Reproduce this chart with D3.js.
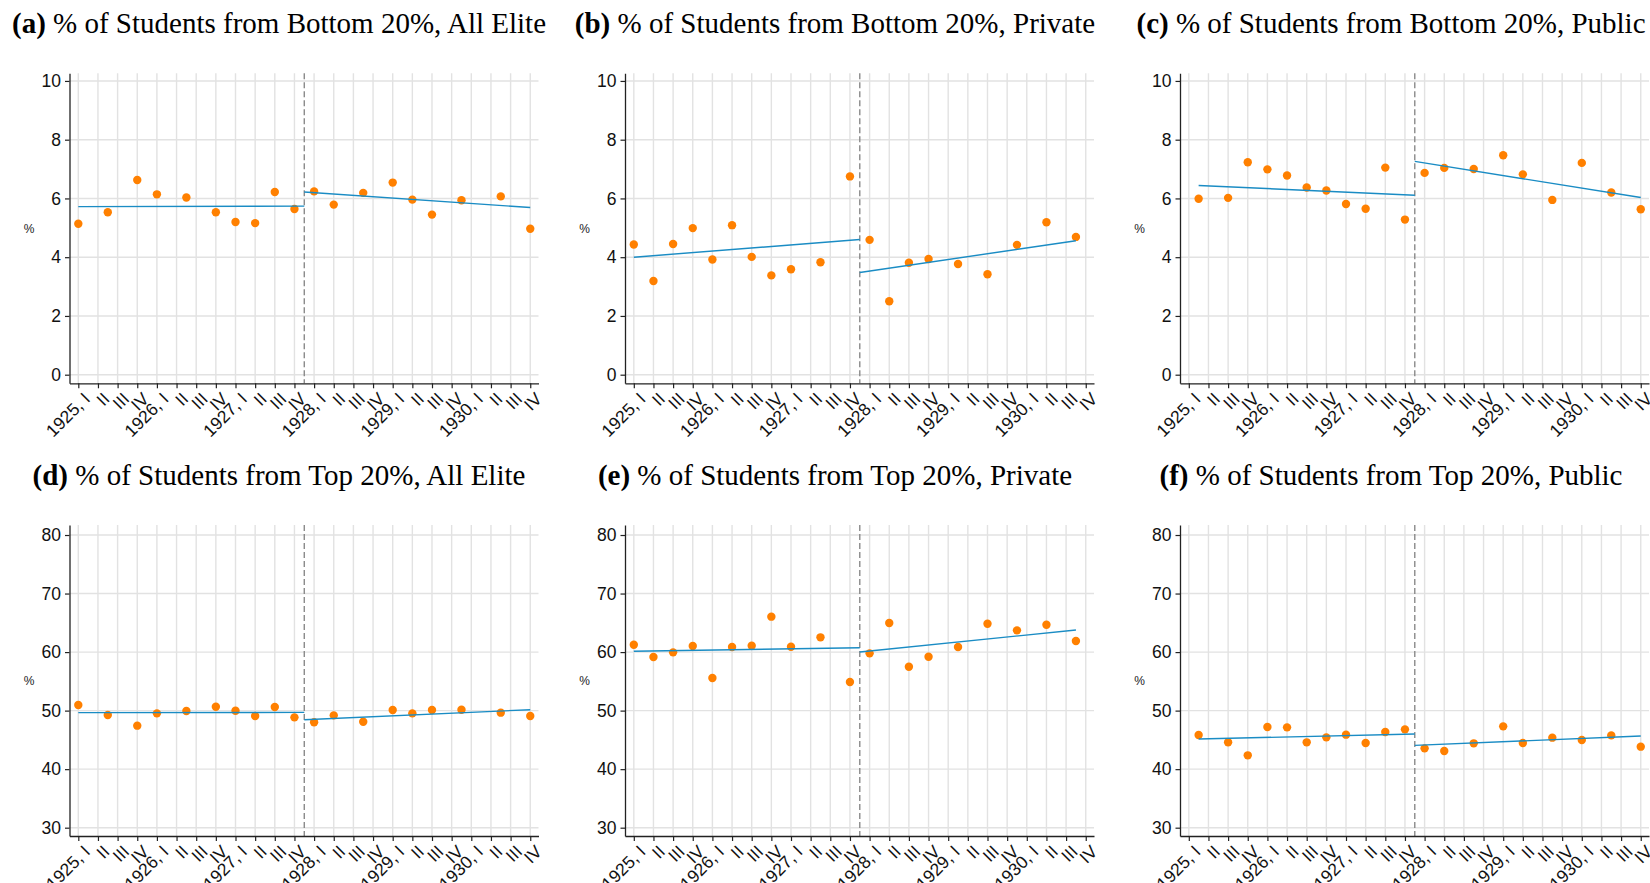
<!DOCTYPE html>
<html>
<head>
<meta charset="utf-8">
<script src="https://cdn.jsdelivr.net/npm/d3@7"></script>
<style>
body { margin: 0; background: #fff; }
</style>
</head>
<body>
<div id="chart"></div>
<script>
// x axis: quarters from 1925 I to 1930 IV, reform between 1927 IV and 1928 I
let years = [1925, 1926, 1927, 1928, 1929, 1930];
let quarters = ["I", "II", "III", "IV"];
let cutoff = 11.5;

let ticksBottom20 = [0, 2, 4, 6, 8, 10];
let ticksTop20 = [30, 40, 50, 60, 70, 80];

// x positions of the points (quarter index, 0 = 1925 I)
let posElite = [0, 1.5, 3, 4, 5.5, 7, 8, 9, 10, 11, 12, 13, 14.5, 16, 17, 18, 19.5, 21.5, 23];
let posPrivate = [0, 1, 2, 3, 4, 5, 6, 7, 8, 9.5, 11, 12, 13, 14, 15, 16.5, 18, 19.5, 21, 22.5];
let posPublic = [0.5, 2, 3, 4, 5, 6, 7, 8, 9, 10, 11, 12, 13, 14.5, 16, 17, 18.5, 20, 21.5, 23];

// % of students from bottom 20%
let bottomElite = [5.14, 5.53, 6.63, 6.14, 6.03, 5.53, 5.20, 5.16, 6.22, 5.64, 6.24, 5.79, 6.19, 6.54, 5.96, 5.45, 5.94, 6.07, 4.97];
let bottomPrivate = [4.43, 3.19, 4.45, 4.99, 3.92, 5.09, 4.01, 3.38, 3.59, 3.83, 6.75, 4.59, 2.50, 3.81, 3.94, 3.77, 3.42, 4.42, 5.19, 4.69];
let bottomPublic = [5.99, 6.02, 7.23, 6.99, 6.78, 6.37, 6.27, 5.81, 5.65, 7.05, 5.28, 6.87, 7.04, 7.00, 7.47, 6.82, 5.95, 7.21, 6.20, 5.63];

// % of students from top 20%
let topElite = [50.96, 49.25, 47.43, 49.53, 49.93, 50.67, 49.99, 49.08, 50.61, 48.85, 48.0, 49.19, 48.11, 50.10, 49.53, 50.10, 50.16, 49.65, 49.08];
let topPrivate = [61.26, 59.16, 59.95, 61.04, 55.57, 60.87, 61.09, 66.05, 60.92, 62.52, 54.89, 59.78, 64.97, 57.50, 59.21, 60.87, 64.85, 63.71, 64.68, 61.89];
let topPublic = [45.83, 44.58, 42.36, 47.20, 47.14, 44.58, 45.43, 45.89, 44.46, 46.34, 46.80, 43.55, 43.10, 44.41, 47.31, 44.46, 45.38, 44.98, 45.77, 43.84];

// fitted lines, value at the start and end of each segment
let fitBottomElite = [[5.72, 5.74], [6.22, 5.69]];
let fitBottomPrivate = [[4.00, 4.60], [3.48, 4.56]];
let fitBottomPublic = [[6.44, 6.11], [7.26, 6.03]];
let fitTopElite = [[49.65, 49.70], [48.45, 50.16]];
let fitTopPrivate = [[60.13, 60.75], [60.01, 63.77]];
let fitTopPublic = [[45.15, 46.00], [44.07, 45.66]];

let titles = [
	["(a)", " % of Students from Bottom 20%, All Elite"],
	["(b)", " % of Students from Bottom 20%, Private"],
	["(c)", " % of Students from Bottom 20%, Public"],
	["(d)", " % of Students from Top 20%, All Elite"],
	["(e)", " % of Students from Top 20%, Private"],
	["(f)", " % of Students from Top 20%, Public"]
];

let xLabels = [];
years.forEach(function(yr) {
	quarters.forEach(function(q, i) {
		xLabels.push(i == 0 ? yr + ", " + q : q);
	});
});

let panels = [
	{ pos: posElite, vals: bottomElite, fit: fitBottomElite },
	{ pos: posPrivate, vals: bottomPrivate, fit: fitBottomPrivate },
	{ pos: posPublic, vals: bottomPublic, fit: fitBottomPublic },
	{ pos: posElite, vals: topElite, fit: fitTopElite },
	{ pos: posPrivate, vals: topPrivate, fit: fitTopPrivate },
	{ pos: posPublic, vals: topPublic, fit: fitTopPublic }
];

let width = 1650;
let height = 883;
let colLeft = [69.5, 625, 1180];
let colTitle = [279, 835, 1391];
let plotWidth = 469;
let rows = [
	{ top: 73.3, bottom: 383.3, domain: [-0.293, 10.26], ticks: ticksBottom20, titleY: 32.5 },
	{ top: 525, bottom: 836, domain: [28.58, 81.71], ticks: ticksTop20, titleY: 485 }
];

let orange = "#ff8000";
let blue = "#1a8cc4";
let gridColor = "#e2e2e2";
let axisColor = "#222";

let svg = d3.select("#chart").append("svg")
	.attr("width", width)
	.attr("height", height)
	.style("display", "block")
	.style("background", "#fff");

panels.forEach(function(p, i) {
	let col = i % 3;
	let row = rows[Math.floor(i / 3)];
	let left = colLeft[col];

	let x = d3.scaleLinear()
		.domain([-0.448, 23.42])
		.range([left, left + plotWidth]);
	let y = d3.scaleLinear()
		.domain(row.domain)
		.range([row.bottom, row.top]);

	let g = svg.append("g");

	// title, bold letter then plain text
	let t = svg.append("text")
		.attr("x", colTitle[col])
		.attr("y", row.titleY)
		.attr("text-anchor", "middle")
		.style("font-family", "'Liberation Serif', 'Times New Roman', serif")
		.style("font-size", "29px")
		.style("fill", "#000");
	t.append("tspan").style("font-weight", "bold").text(titles[i][0]);
	t.append("tspan").text(titles[i][1]);

	// gridlines
	g.selectAll(".vgrid")
		.data(d3.range(24))
		.enter().append("line")
		.attr("x1", x).attr("x2", x)
		.attr("y1", row.top).attr("y2", row.bottom)
		.style("stroke", gridColor)
		.style("stroke-width", 1.4);
	g.selectAll(".hgrid")
		.data(row.ticks)
		.enter().append("line")
		.attr("x1", left).attr("x2", left + plotWidth)
		.attr("y1", y).attr("y2", y)
		.style("stroke", gridColor)
		.style("stroke-width", 1.4);

	// reform line
	g.append("line")
		.attr("x1", x(cutoff)).attr("x2", x(cutoff))
		.attr("y1", row.top).attr("y2", row.bottom)
		.style("stroke", "#8a8a8a")
		.style("stroke-width", 1.4)
		.style("stroke-dasharray", "6,3");

	// axes
	let xAxis = g.append("g")
		.attr("transform", "translate(0," + row.bottom + ")")
		.call(d3.axisBottom(x)
			.tickValues(d3.range(24))
			.tickFormat(function(d) { return xLabels[d]; })
			.tickSize(5)
			.tickSizeOuter(0));
	xAxis.selectAll("text")
		.attr("y", 0)
		.attr("dy", "0.71em")
		.attr("transform", "translate(3.5,8) rotate(-45)")
		.style("text-anchor", "end");

	let yAxis = g.append("g")
		.attr("transform", "translate(" + left + ",0)")
		.call(d3.axisLeft(y)
			.tickValues(row.ticks)
			.tickSize(4.5)
			.tickPadding(4)
			.tickSizeOuter(0));

	[xAxis, yAxis].forEach(function(a) {
		a.select(".domain").style("stroke", axisColor).style("stroke-width", 1.3);
		a.selectAll(".tick line").style("stroke", axisColor).style("stroke-width", 1.2);
		a.selectAll("text")
			.style("font-family", "'Liberation Sans', Arial, sans-serif")
			.style("font-size", "17.5px")
			.style("fill", "#111");
	});

	g.append("text")
		.attr("x", left - 40.5)
		.attr("y", (row.top + row.bottom) / 2)
		.attr("text-anchor", "middle")
		.attr("dy", "0.35em")
		.style("font-family", "'Liberation Sans', Arial, sans-serif")
		.style("font-size", "12px")
		.style("fill", "#222")
		.text("%");

	// points
	g.selectAll(".dot")
		.data(p.vals)
		.enter().append("circle")
		.attr("cx", function(d, j) { return x(p.pos[j]); })
		.attr("cy", function(d) { return y(d); })
		.attr("r", 4.2)
		.style("fill", orange);

	// linear fits before and after the cutoff
	let first = p.pos[0];
	let last = p.pos[p.pos.length - 1];
	let segs = [
		[[first, p.fit[0][0]], [cutoff, p.fit[0][1]]],
		[[cutoff, p.fit[1][0]], [last, p.fit[1][1]]]
	];
	let line = d3.line()
		.x(function(d) { return x(d[0]); })
		.y(function(d) { return y(d[1]); });
	g.selectAll(".fit")
		.data(segs)
		.enter().append("path")
		.attr("d", line)
		.style("fill", "none")
		.style("stroke", blue)
		.style("stroke-width", 1.4);
});
</script>
</body>
</html>
